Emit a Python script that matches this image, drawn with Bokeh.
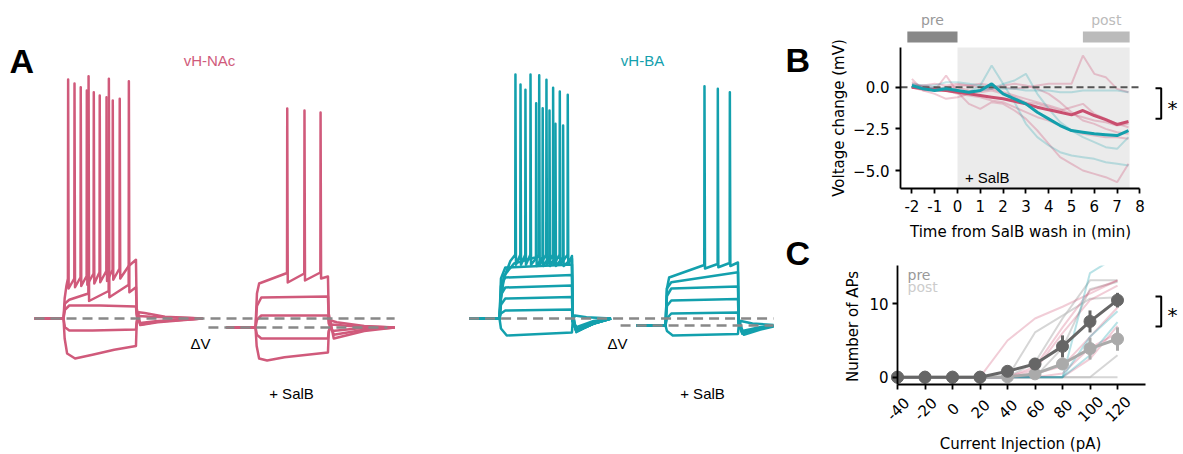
import math
from bokeh.plotting import figure
from bokeh.models import Range1d, FixedTicker
from bokeh.layouts import row, column
from bokeh.embed import file_html
from bokeh.resources import INLINE
from bokeh.core.properties import value

# ======================= DATA =======================
# ---- Panel A: whole-cell traces, time (ms from current-step onset) / membrane potential (mV)
NAC_PRE_REST, NAC_POST_REST = -70.0, -73.6
BA_PRE_REST, BA_POST_REST = -70.0, -72.8

nac_pre_m2_t = [-200, 0, 8, 25, 80, 200, 350, 500, 505, 520, 560, 700, 960]
nac_pre_m2_v = [-70, -70, -78, -84, -86, -84.5, -82.5, -81, -72, -67.5, -67.8, -69.3, -70]
nac_pre_m1_t = [-200, 0, 10, 40, 200, 500, 505, 520, 600, 960]
nac_pre_m1_v = [-70, -70, -73.5, -74.8, -74.8, -74.4, -71, -69, -69.3, -70]
nac_pre_p1_t = [-200, 0, 10, 40, 250, 500, 505, 530, 650, 960]
nac_pre_p1_v = [-70, -70, -66.5, -64.8, -64.8, -65.2, -69, -71.8, -71, -70]
nac_pre_p2_t = [-200, 0, 10, 40, 171.5, 173, 176.5, 311.5, 313, 316.5, 449.5, 451, 454.5,
                500, 505, 530, 650, 960]
nac_pre_p2_v = [-70, -70, -64, -62.5, -60, 26.9, -63, -59, 25.9, -61.5, -56.5, 24.9, -59.5,
                -57.5, -68, -72.6, -71.5, -70]
nac_pre_p3_t = [-200, 0, 8, 20, 30.5, 32, 35.5, 74.5, 76, 79.5, 117.5, 119, 122.5, 159.5, 161,
                164.5, 207.5, 209, 212.5, 248.5, 250, 253.5, 295.5, 297, 300.5, 338.5, 340,
                343.5, 386.5, 388, 391.5, 450, 500, 505, 530, 650, 960]
nac_pre_p3_v = [-70, -70, -62, -57, -54, 25.6, -58, -54, 24.0, -57.5, -53.5, 22.5, -57, -53,
                21.2, -56.5, -52, 20.5, -56, -51.5, 19.2, -55.5, -51, 18.5, -55, -50.5, 17.2,
                -54.5, -50, 17.9, -54, -49, -46.5, -66, -72.5, -71.2, -70]

nac_post_m2_t = [-200, 0, 8, 25, 80, 200, 500, 505, 520, 560, 750, 960]
nac_post_m2_v = [-73.6, -73.6, -81, -86, -86.8, -85.5, -83.6, -76, -70.8, -71.5, -73, -73.6]
nac_post_m1_t = [-200, 0, 10, 40, 500, 505, 525, 650, 960]
nac_post_m1_v = [-73.6, -73.6, -76.5, -78, -78, -75, -72.4, -73, -73.6]
nac_post_p1_t = [-200, 0, 10, 40, 500, 505, 530, 700, 960]
nac_post_p1_v = [-73.6, -73.6, -70.5, -68.8, -68.8, -72, -75, -74, -73.6]
nac_post_p2_t = [-200, 0, 10, 40, 500, 505, 540, 750, 960]
nac_post_p2_v = [-73.6, -73.6, -65, -61.6, -61.2, -70, -76.5, -74.5, -73.6]
nac_post_p3_t = [-200, 0, 10, 25, 217.5, 219, 222.5, 336.5, 338, 341.5, 447.5, 449, 452.5,
                 500, 505, 540, 750, 960]
nac_post_p3_v = [-73.6, -73.6, -60, -56, -51.8, 14.0, -55.6, -52, 13.2, -54.8, -51.6, 12.4,
                 -54, -53.2, -68, -78, -75, -73.6]

ba_pre_m1_t = [-210, 0, 10, 50, 500, 505, 520, 600, 770]
ba_pre_m1_v = [-70, -70, -74, -76.8, -75.6, -71, -68.8, -69.5, -70]
ba_pre_step_t = [-210, 0, 10, 40, 500, 505, 530, 650, 770]
ba_pre_p1_v = [-70, -70, -68, -66.8, -66.4, -71, -73.5, -71, -70]
ba_pre_p2_v = [-70, -70, -64.5, -62, -61.4, -71, -74.5, -71.5, -70]
ba_pre_p3_v = [-70, -70, -60.5, -57.6, -56.8, -71, -75, -72, -70]
ba_pre_p4_v = [-70, -70, -57, -53.6, -52.6, -71, -75, -72, -70]
ba_pre_p5_v = [-70, -70, -54, -49.6, -48.4, -71, -75, -72, -70]
ba_pre_p6_t = [-210, 0, 10, 30, 100, 251.5, 253, 256.5, 296.5, 298, 301.5, 343.5, 345, 348.5,
               384.5, 386, 389.5, 437.5, 439, 442.5, 500, 505, 530, 650, 770]
ba_pre_p6_v = [-70, -70, -62, -53, -48, -45.5, 16.1, -49, -45.5, 14.1, -49, -45.5, 13.2, -49,
               -45.5, 7.9, -49, -45.5, 7.2, -49, -46, -68, -75, -72, -70]
ba_pre_p7_t = [-210, 0, 10, 30, 75, 108.5, 110, 113.5, 143.5, 145, 148.5, 177.5, 179, 182.5,
               212.5, 214, 217.5, 272.5, 274, 277.5, 322.5, 324, 327.5, 368.5, 370, 373.5,
               414.5, 416, 419.5, 469.5, 471, 474.5, 500, 505, 530, 650, 770]
ba_pre_p7_v = [-70, -70, -62, -54, -47, -44.5, 27.6, -48.5, -44.5, 23.6, -48.5, -44.5, 21.5,
               -48.5, -44.5, 27.6, -48.5, -44.5, 27.3, -48.5, -44.5, 25.5, -48.5, -44.5, 22.3,
               -48.5, -44.5, 20.8, -48.5, -44.5, 19.5, -48.5, -45, -68, -75.5, -72, -70]

ba_post_m1_t = [-200, 0, 10, 50, 500, 505, 520, 600, 745]
ba_post_m1_v = [-72.8, -72.8, -75, -76.8, -76.2, -73, -71, -72, -72.6]
ba_post_step_t = [-200, 0, 10, 40, 500, 505, 530, 650, 745]
ba_post_p1_v = [-72.8, -72.8, -70, -68, -67.6, -72, -75, -73.5, -72.8]
ba_post_p2_v = [-72.8, -72.8, -65, -62.8, -62.2, -72, -75.5, -74, -73]
ba_post_p3_v = [-72.8, -72.8, -61, -58, -57.2, -72, -76, -74, -73]
ba_post_p4_v = [-72.8, -72.8, -58, -55.5, -51.5, -72, -76, -74, -73]
ba_post_p5_t = [-200, 0, 10, 25, 267.5, 269, 272.5, 359.5, 361, 364.5, 442.5, 444, 447.5,
                500, 505, 540, 650, 745]
ba_post_p5_v = [-72.8, -72.8, -58, -53.6, -48.6, 22.9, -50, -48.2, 21.9, -49.5, -47.8, 20.5,
                -49, -47.6, -70, -76.5, -74.5, -73.2]

# ---- Panel B: voltage change (mV) vs time from SalB wash-in (min)
t_b = [-2, -1.5, -1, -0.5, 0, 0.5, 1, 1.5, 2, 2.5, 3, 3.5, 4, 4.5, 5, 5.5, 6, 6.5, 7, 7.5]
nac_mean = [0.0, -0.1, -0.15, -0.2, -0.3, -0.4, -0.5, -0.6, -0.7, -0.85, -1.0, -1.2, -1.36,
            -1.5, -1.66, -1.4, -1.7, -1.95, -2.24, -2.06]
ba_mean = [0.1, -0.1, -0.2, -0.1, -0.2, -0.3, -0.2, 0.2, -0.4, -0.7, -1.0, -1.5, -1.9, -2.3,
           -2.6, -2.7, -2.8, -2.85, -2.9, -2.6]
nac_cells = [
    [0.3, 0.0, -0.1, 0.0, 0.1, 0.1, 0.2, 0.1, 0.0, -0.1, 0.0, 0.1, 0.2, 0.2, 0.2, 1.9, 0.8, 0.6, -0.1, -0.3],
    [0.5, -0.2, -0.2, 0.7, -0.3, -1.0, -1.3, -0.9, -1.0, -1.4, -1.9, -2.6, -3.4, -4.2, -4.6, -5.0, -5.2, -5.4, -5.7, -4.6],
    [0.0, 0.1, 0.0, -0.2, -0.4, -0.5, -0.6, -0.8, -0.9, -1.2, -1.5, -1.8, -2.0, -2.3, -2.6, -2.8, -2.9, -3.0, -3.0, -3.1],
    [0.2, 0.0, -0.1, -0.1, 0.0, -0.2, -0.3, -0.2, -0.4, -0.6, -0.9, -1.0, -1.2, -1.4, -1.2, -1.0, -1.6, -1.9, -2.2, -2.4],
    [0.1, 0.1, 0.2, 0.1, 0.2, 0.1, 0.0, -0.1, 0.1, 0.2, 0.1, -0.1, -0.4, -0.9, -1.5, -2.0, -2.2, -2.5, -2.7, -2.8],
    [0.0, -0.2, -0.4, -0.7, -0.6, -0.4, -0.2, -0.1, -0.3, -0.5, -0.7, -0.9, -1.1, -1.3, -1.6, -1.8, -2.0, -2.1, -2.3, -2.2],
]
ba_cells = [
    [0.1, 0.0, -0.1, 0.0, -0.2, -0.3, 0.1, 1.3, 0.2, -0.9, -2.2, -3.0, -3.5, -3.9, -4.1, -4.2, -4.3, -4.5, -4.6, -4.7],
    [0.0, -0.1, 0.0, -0.2, -0.3, -0.3, -0.2, -0.1, 0.2, 0.4, 0.8, -0.4, -1.3, -2.1, -2.6, -3.0, -3.3, -3.6, -3.7, -3.0],
    [0.2, 0.1, 0.1, 0.3, 0.3, 0.2, 0.1, 0.0, -0.1, -0.1, -0.2, -0.2, -0.2, -0.3, -0.3, -0.2, -0.2, -0.2, -0.2, -0.3],
]
wash_period = [0, 7.55]
pre_window = [-2.2, 0]
post_window = [5.5, 7.55]
b_xlim = [-2.5, 8.0]
b_ylim = [-6.08, 2.38]
b_xticks = [-2, -1, 0, 1, 2, 3, 4, 5, 6, 7, 8]
b_yticks = [-5.0, -2.5, 0.0]
b_ytick_labels = ["\u22125.0", "\u22122.5", "0.0"]

# ---- Panel C: number of APs vs current injection (pA)
i_c = [-40, -20, 0, 20, 40, 60, 80, 100, 120]
pre_mean = [0, 0, 0, 0, 0.8, 1.8, 4.2, 7.6, 10.5]
pre_sem = [0, 0, 0, 0, 0.6, 0.8, 1.5, 1.5, 1.0]
post_mean = [0, 0, 0, 0, 0.05, 0.45, 1.8, 3.9, 5.2]
post_sem = [0, 0, 0, 0, 0.1, 0.2, 0.7, 1.5, 1.6]
c_nac_cells = [
    [0, 0, 0, 0, 5.0, 8.0, 9.6, 11.4, 13.2],
    [0, 0, 0, 0, 0, 1.4, 6.8, 11.8, 13.2],
    [0, 0, 0, 0, 0, 0.5, 1.5, 5.5, 9.5],
    [0, 0, 0, 0, 0, 0, 0, 2.5, 7.0],
    [0, 0, 0, 0, 0, 0, 0.5, 4.0, 6.0],
    [0, 0, 0, 0, 0, 1.0, 6.0, 10.5, 12.5],
]
c_ba_cells = [
    [0, 0, 0, 0, 0, 0, 0, 14.2, 16.5],
    [0, 0, 0, 0, 0, 0, 0, 5.5, 9.0],
    [0, 0, 0, 0, 0, 0, 0, 3.0, 7.5],
]
c_other_cells = [
    [0, 0, 0, 0, 0, 6.1, 8.4, 10.7, 10.9],
    [0, 0, 0, 0, 0, 2.0, 8.0, 13.2, 13.2],
    [0, 0, 0, 0, 0, 0, 0, 0, 3.0],
    [0, 0, 0, 0, 0, 0, 0, 0, 0],
    [0, 0, 0, 0, 0, 0, 4.0, 12.0, 13.0],
]
c_xlim = [-40, 140]
c_ylim = [-1.0, 15.23]
c_yticks = [0, 10]

# ======================= STYLE / LAYOUT =======================
PINK = "#d05a7b"
TEAL = "#13a0ad"
PINK_MEAN = "#c94f6f"
TEAL_MEAN = "#139fac"
SANS = "Liberation Sans"
MPL = "DejaVu Sans"

# ---------------- Panel A (page-pixel frame, one scale per recording) ----------------
SX, SY = 6.9, 0.4            # ms per px, mV per px
X_ON = {"nac_pre": 63, "nac_post": 255, "ba_pre": 499, "ba_post": 665}
A_W, A_H = 820, 452
Y_REF = 318                  # page row of -70 mV

pA = figure(width=A_W, height=A_H, x_range=Range1d(0, A_W), y_range=Range1d(A_H, 0),
            output_backend="svg", toolbar_location=None, min_border=0,
            x_axis_location=None, y_axis_location=None, outline_line_color=None)
pA.grid.visible = False
pA.extra_x_ranges = {k: Range1d(-x * SX, (A_W - x) * SX) for k, x in X_ON.items()}
pA.extra_y_ranges = {"mv": Range1d(-70 - (A_H - Y_REF) * SY, -70 + Y_REF * SY)}

groups = [
    ("nac_pre", PINK, [(nac_pre_m2_t, nac_pre_m2_v), (nac_pre_m1_t, nac_pre_m1_v),
                       (nac_pre_p1_t, nac_pre_p1_v), (nac_pre_p2_t, nac_pre_p2_v),
                       (nac_pre_p3_t, nac_pre_p3_v)]),
    ("nac_post", PINK, [(nac_post_m2_t, nac_post_m2_v), (nac_post_m1_t, nac_post_m1_v),
                        (nac_post_p1_t, nac_post_p1_v), (nac_post_p2_t, nac_post_p2_v),
                        (nac_post_p3_t, nac_post_p3_v)]),
    ("ba_pre", TEAL, [(ba_pre_m1_t, ba_pre_m1_v), (ba_pre_step_t, ba_pre_p1_v),
                      (ba_pre_step_t, ba_pre_p2_v), (ba_pre_step_t, ba_pre_p3_v),
                      (ba_pre_step_t, ba_pre_p4_v), (ba_pre_step_t, ba_pre_p5_v),
                      (ba_pre_p6_t, ba_pre_p6_v), (ba_pre_p7_t, ba_pre_p7_v)]),
    ("ba_post", TEAL, [(ba_post_m1_t, ba_post_m1_v), (ba_post_step_t, ba_post_p1_v),
                       (ba_post_step_t, ba_post_p2_v), (ba_post_step_t, ba_post_p3_v),
                       (ba_post_step_t, ba_post_p4_v), (ba_post_p5_t, ba_post_p5_v)]),
]
for name, col, sweeps in groups:
    for t, v in sweeps:
        pA.line(t, v, x_range_name=name, y_range_name="mv", line_color=col,
                line_width=2.5, line_join="round")


def dv_line(name, t0, t1, level):
    pA.line([t0, t1], [level, level], x_range_name=name, y_range_name="mv",
            line_color="#888888", line_width=2.5, line_dash="10 6")


shift_nac = (X_ON["nac_post"] - X_ON["nac_pre"]) * SX
shift_ba = (X_ON["ba_post"] - X_ON["ba_pre"]) * SX
dv_line("nac_pre", nac_pre_m2_t[0], nac_post_m2_t[-1] + shift_nac, NAC_PRE_REST)
dv_line("nac_post", -325, 910, NAC_POST_REST)
dv_line("ba_pre", ba_pre_m1_t[0], ba_post_m1_t[-1] + shift_ba, BA_PRE_REST)
dv_line("ba_post", -310, 745, BA_POST_REST)


def atext(x, y, s, size="15px", color="black", align="center", style="normal"):
    pA.text(x=[x], y=[y], text=[s], text_font=value(SANS), text_font_size=size,
            text_color=color, text_align=align, text_baseline="alphabetic",
            text_font_style=style)


atext(9, 60, "A", size="34px", align="left", style="bold")
atext(785, 59, "B", size="34px", align="left", style="bold")
atext(785, 252, "C", size="34px", align="left", style="bold")
atext(209, 60, "vH-NAc", color=PINK)
atext(642, 60, "vH-BA", color=TEAL)
atext(200, 343, "\u0394V")
atext(617, 343, "\u0394V")
atext(291, 393, "+ SalB")
atext(702, 393, "+ SalB")


def style_axes(p):
    for ax in (p.xaxis[0], p.yaxis[0]):
        ax.axis_line_width = 1.8
        ax.axis_line_color = "black"
        ax.major_tick_line_width = 1.8
        ax.major_tick_line_color = "black"
        ax.major_tick_out = 5
        ax.major_tick_in = 0
        ax.minor_tick_line_color = None
        ax.major_label_text_font = MPL
        ax.major_label_text_font_size = "15px"
        ax.major_label_text_color = "black"
        ax.major_label_standoff = 6
    p.grid.visible = False


def side_fig(w, h, xr, yr):
    return figure(width=w, height=h, x_range=Range1d(*xr), y_range=Range1d(*yr),
                  output_backend="svg", toolbar_location=None, min_border=0,
                  outline_line_color=None)


def mpl_text(p, x, y, s, size="15px", color="black", align="center", baseline="alphabetic",
             angle=0.0):
    p.text(x=[x], y=[y], text=[s], text_font=value(MPL), text_font_size=size,
           text_color=color, text_align=align, text_baseline=baseline, angle=angle)


# ---------------- Panel B ----------------
def bx(px):   # page column -> panel B data
    return b_xlim[0] + (px - 900) / 22.8


def by(py):   # page row -> panel B data
    return (86.67 - py) / 16.667


pB = side_fig(360, 250, (bx(820), bx(1180)), (by(250), by(0)))
style_axes(pB)
pB.xaxis.fixed_location = b_ylim[0]
pB.yaxis.fixed_location = b_xlim[0]
pB.xaxis.bounds = tuple(b_xlim)
pB.yaxis.bounds = tuple(b_ylim)
pB.xaxis.ticker = FixedTicker(ticks=b_xticks)
pB.xaxis.major_label_overrides = {t: str(t) for t in b_xticks}
pB.yaxis.ticker = FixedTicker(ticks=b_yticks)
pB.yaxis.major_label_overrides = dict(zip(b_yticks, b_ytick_labels))

pB.quad(left=[wash_period[0]], right=[wash_period[1]], bottom=[b_ylim[0]], top=[b_ylim[1]],
        fill_color="#ebebeb", line_color=None)
pB.quad(left=[pre_window[0], post_window[0]], right=[pre_window[1], post_window[1]],
        bottom=[by(42)] * 2, top=[by(31)] * 2, fill_color=["#888888", "#bbbbbb"],
        line_color=None)
pB.text(x=[sum(pre_window) / 2, sum(post_window) / 2], y=[by(19)] * 2, text=["pre", "post"],
        text_font=value(MPL), text_font_size="14px", text_color=["#999999", "#bbbbbb"],
        text_align="center", text_baseline="alphabetic")
for cell in nac_cells:
    pB.line(t_b, cell, line_color=PINK, line_alpha=0.32, line_width=2)
for cell in ba_cells:
    pB.line(t_b, cell, line_color=TEAL, line_alpha=0.25, line_width=2)
pB.line(b_xlim, [0, 0], line_color="#555555", line_width=2, line_dash="7 4")
pB.line(t_b, nac_mean, line_color=PINK_MEAN, line_width=3)
pB.line(t_b, ba_mean, line_color=TEAL_MEAN, line_width=3)
pB.text(x=[bx(986.7)], y=[by(176.7)], text=["+ SalB"], text_font=value(SANS),
        text_font_size="15px", text_align="center", text_baseline="alphabetic")
pB.line([bx(1155), bx(1160.7), bx(1160.7), bx(1155)], [by(87.7), by(87.7), by(118.3), by(118.3)],
        line_color="black", line_width=2)
mpl_text(pB, bx(1172), by(107.5), "*", size="20px", baseline="middle")
mpl_text(pB, bx(1020), by(231), "Time from SalB wash in (min)")
mpl_text(pB, bx(838), by(117.5), "Voltage change (mV)", baseline="middle", angle=math.pi / 2)


# ---------------- Panel C ----------------
def cx(px):
    return c_xlim[0] + (px - 897) / 1.375


def cy(py):
    return (376.67 - py) / 7.333


pC = side_fig(360, 202, (cx(820), cx(1180)), (cy(452), cy(250)))
style_axes(pC)
pC.xaxis.fixed_location = c_ylim[0]
pC.yaxis.fixed_location = c_xlim[0]
pC.xaxis.bounds = tuple(c_xlim)
pC.yaxis.bounds = tuple(c_ylim)
pC.xaxis.ticker = FixedTicker(ticks=i_c)
pC.xaxis.major_label_text_alpha = 0
pC.yaxis.ticker = FixedTicker(ticks=c_yticks)
pC.yaxis.major_label_standoff = 4

for cell in c_other_cells:
    pC.line(i_c, cell, line_color="#bbbbbb", line_alpha=0.6, line_width=2)
for cell in c_nac_cells:
    pC.line(i_c, cell, line_color=PINK, line_alpha=0.3, line_width=2)
for cell in c_ba_cells:
    pC.line(i_c, cell, line_color=TEAL, line_alpha=0.3, line_width=2)
# the axes box clips the individual cells at its top edge
pC.quad(left=[c_xlim[0]], right=[c_xlim[1]], bottom=[c_ylim[1]], top=[cy(250)],
        fill_color="white", line_color=None)

for mean, sem, col in ((post_mean, post_sem, "#aaaaaa"), (pre_mean, pre_sem, "#666666")):
    pC.segment(x0=i_c, x1=i_c, y0=[m - s for m, s in zip(mean, sem)],
               y1=[m + s for m, s in zip(mean, sem)], line_color=col, line_width=3)
    pC.line(i_c, mean, line_color=col, line_width=3)
    pC.scatter(i_c, mean, size=12, fill_color=col, line_color=col)

pC.text(x=i_c, y=[cy(408)] * len(i_c), text=[str(v) for v in i_c], angle=math.pi / 4,
        text_font=value(MPL), text_font_size="15px", text_color="black",
        text_align="center", text_baseline="middle")
pC.text(x=[cx(907)] * 2, y=[cy(274), cy(286.7)], text=["pre", "post"], text_font=value(MPL),
        text_font_size="14px", text_color=["#999999", "#cccccc"], text_align="left",
        text_baseline="alphabetic")
pC.line([cx(1155), cx(1160.7), cx(1160.7), cx(1155)], [cy(296), cy(296), cy(326), cy(326)],
        line_color="black", line_width=2)
mpl_text(pC, cx(1172), cy(314.5), "*", size="20px", baseline="middle")
mpl_text(pC, cx(1020), cy(443), "Current Injection (pA)")
mpl_text(pC, cx(852.5), cy(326), "Number of APs", baseline="middle", angle=math.pi / 2)

layout = row(pA, column(pB, pC))
open("out.html", "w").write(file_html(layout, INLINE))
